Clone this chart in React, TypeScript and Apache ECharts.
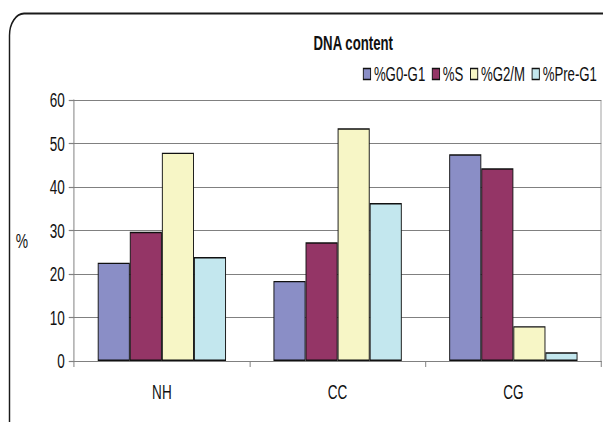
import React, { useEffect, useRef } from "react";
import * as echarts from "echarts";

const categories = ["NH", "CC", "CG"];
const seriesNames = ["%G0-G1", "%S", "%G2/M", "%Pre-G1"];
const g0g1 = [22.6, 18.4, 47.5];
const sPhase = [29.7, 27.3, 44.3];
const g2m = [47.9, 53.5, 8.0];
const preG1 = [23.9, 36.3, 2.0];
const yTicks = [0, 10, 20, 30, 40, 50, 60];

const colors = ["#8A8EC6", "#943566", "#F7F6C6", "#C3E7EE"];
const FONT = "'Liberation Sans', Arial, sans-serif";

// The chart is laid out on a wider canvas and squeezed horizontally,
// which gives the condensed lettering of the printed figure.
const SQUEEZE = 0.66;
const OUT_W = 603;
const OUT_H = 422;
const W = OUT_W / SQUEEZE;
const wx = (x: number) => x / SQUEEZE;

export default function App() {
  const ref = useRef<HTMLDivElement>(null);

  useEffect(() => {
    if (!ref.current) return;
    const chart = echarts.init(ref.current, null, { renderer: "svg" });
    const values = [g0g1, sPhase, g2m, preG1];

    const plotLeft = wx(74);
    const plotRight = wx(601);

    chart.setOption({
      animation: false,
      backgroundColor: "#ffffff",
      textStyle: { fontFamily: FONT },
      title: {
        text: "DNA content",
        left: wx(350),
        top: 28,
        textAlign: "center",
        textStyle: { fontFamily: FONT, fontSize: 20, fontWeight: "bold", color: "#111" },
      },
      legend: {
        data: seriesNames,
        right: wx(3),
        top: 59,
        itemWidth: 11,
        itemHeight: 11,
        itemGap: 10,
        icon: "rect",
        itemStyle: { borderColor: "#111", borderWidth: 1.4 },
        textStyle: { fontFamily: FONT, fontSize: 20, color: "#111" },
      },
      grid: {
        left: plotLeft,
        right: W - plotRight,
        top: 100,
        bottom: OUT_H - 361,
        containLabel: false,
        show: false,
      },
      xAxis: {
        type: "category",
        data: categories,
        axisLine: { show: true, lineStyle: { color: "#808080", width: 1.2 } },
        axisTick: { show: true, alignWithLabel: false, length: 6, lineStyle: { color: "#808080", width: 1.5 } },
        axisLabel: { fontFamily: FONT, fontSize: 20.5, color: "#111", margin: 20 },
        splitLine: { show: false },
      },
      yAxis: {
        type: "value",
        min: yTicks[0],
        max: yTicks[yTicks.length - 1],
        interval: 10,
        name: "%",
        nameLocation: "middle",
        nameRotate: 0,
        nameGap: wx(74 - 28),
        nameTextStyle: {
          fontFamily: FONT,
          fontSize: 21,
          color: "#111",
          verticalAlign: "top",
          lineHeight: 20,
        },
        axisLine: { show: true, lineStyle: { color: "#808080", width: 1.5 } },
        axisTick: { show: true, length: 8, lineStyle: { color: "#808080", width: 1.2 } },
        axisLabel: { fontFamily: FONT, fontSize: 20.5, color: "#111", margin: 14 },
        splitLine: { show: true, lineStyle: { color: "#808080", width: 1.2 } },
      },
      graphic: [
        {
          type: "line",
          shape: { x1: plotRight, y1: 100, x2: plotRight, y2: 361 },
          style: { stroke: "#a0a0a0", lineWidth: 1.5 },
          silent: true,
        },
        {
          type: "rect",
          shape: { x: wx(9.5), y: 13.5, width: W, height: 460, r: [22, 14, 14, 22] },
          style: { fill: "none", stroke: "#1a1a1a", lineWidth: 2.2 },
          silent: true,
          z: 100,
        },
      ],
      series: seriesNames.map((name, i) => ({
        name,
        type: "bar",
        data: values[i],
        barGap: "0%",
        barCategoryGap: "27%",
        itemStyle: { color: colors[i], borderColor: "#111", borderWidth: 1.4 },
      })),
    });

    return () => chart.dispose();
  }, []);

  return (
    <div
      ref={ref}
      style={{
        position: "fixed",
        left: 0,
        top: 0,
        width: W,
        height: OUT_H,
        transform: `scaleX(${SQUEEZE})`,
        transformOrigin: "0 0",
      }}
    />
  );
}
